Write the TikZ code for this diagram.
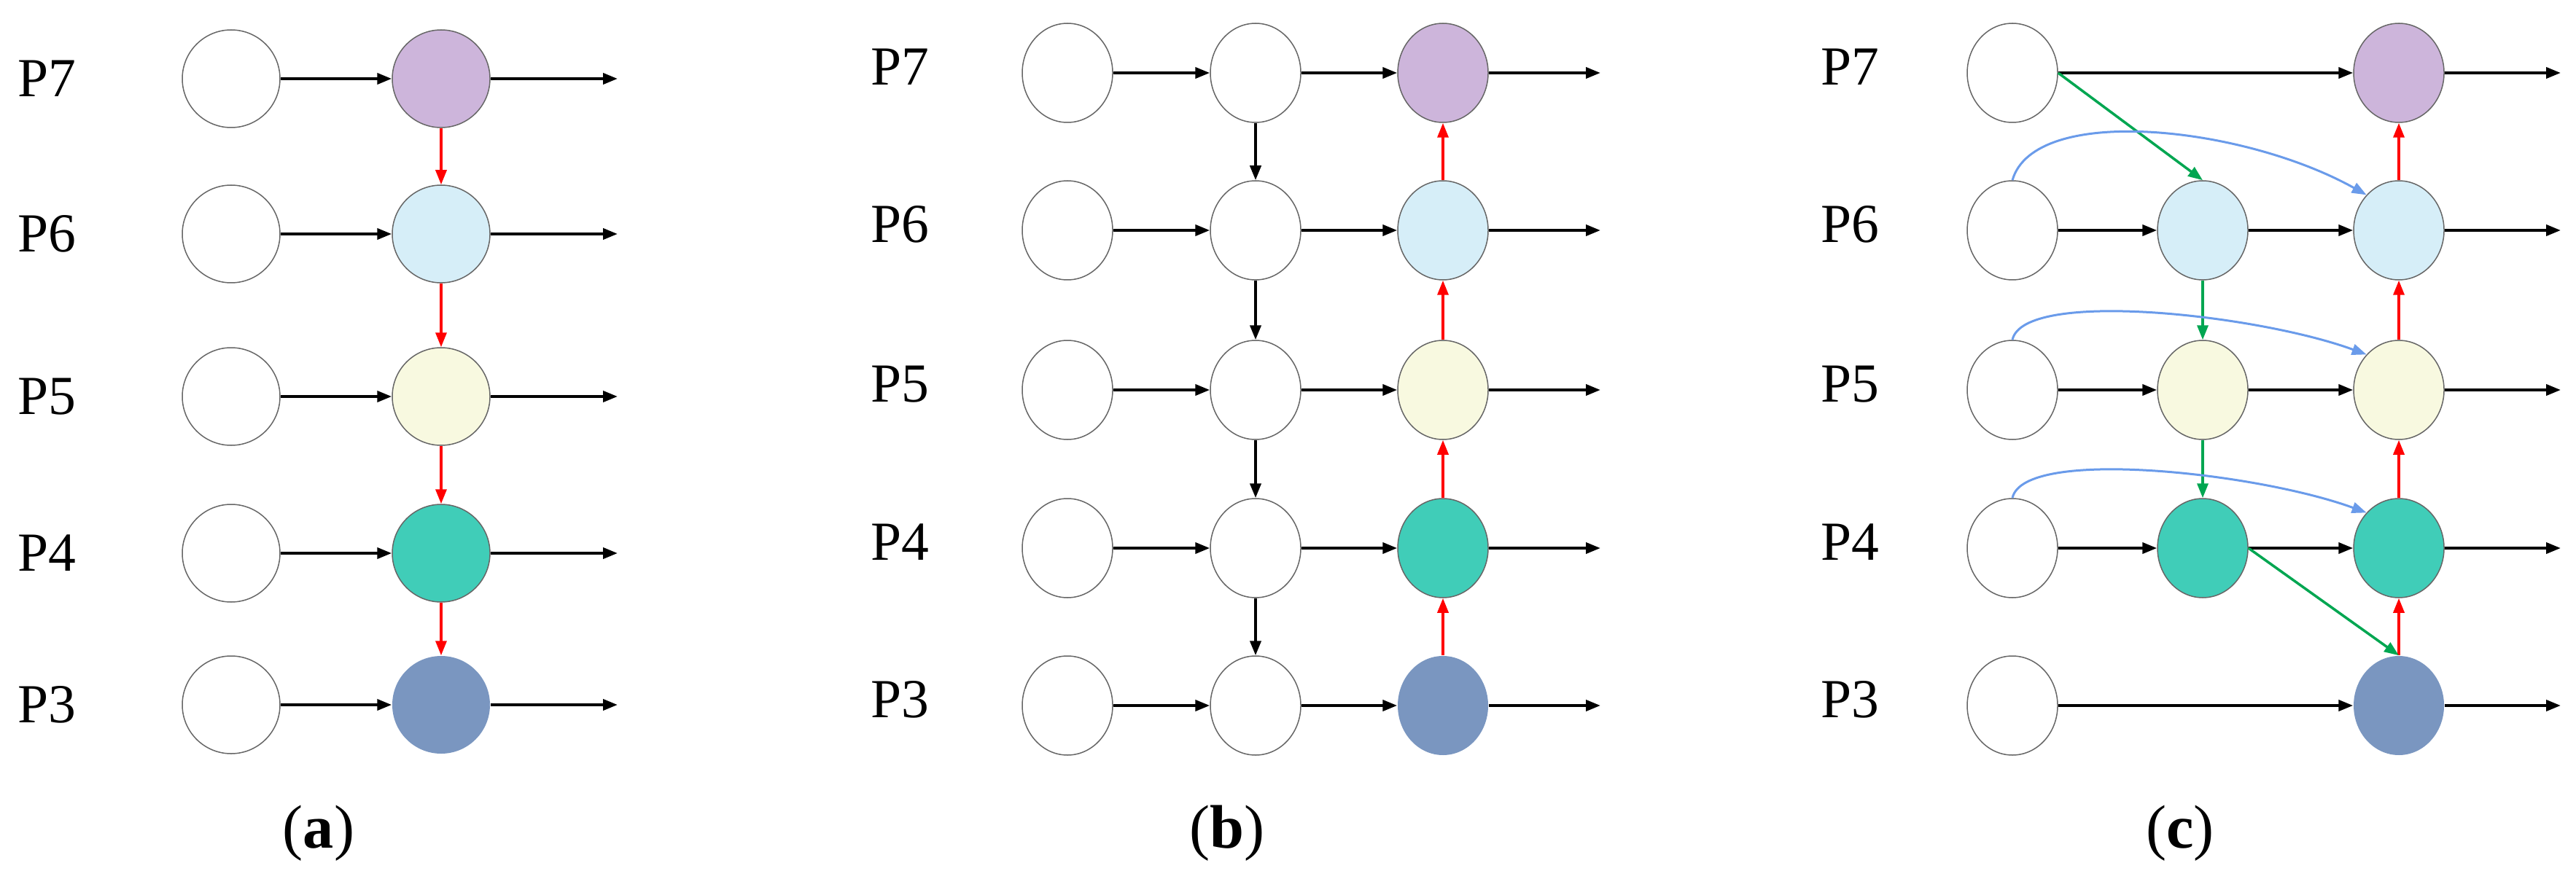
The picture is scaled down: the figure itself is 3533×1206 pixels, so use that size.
\documentclass[tikz,border=0pt]{standalone}
\usepackage{fontspec}
\setmainfont{Liberation Serif}
\usetikzlibrary{shapes.geometric,arrows.meta}
\definecolor{cp}{HTML}{CDB5DB}
\definecolor{cl}{HTML}{D6EEF8}
\definecolor{cc}{HTML}{F8F9E0}
\definecolor{ct}{HTML}{40CDB8}
\definecolor{cb}{HTML}{7A96C0}
\definecolor{cg}{HTML}{00A651}
\definecolor{cu}{HTML}{6A9BEA}
\begin{document}
\begin{tikzpicture}[x=0.1mm,y=-0.1mm,
  nd/.style={ellipse,draw=gray!80!black,line width=0.15mm,minimum width=12.4mm,minimum height=13.6mm,inner sep=0pt},
  na/.style={nd,minimum width=13.4mm,minimum height=13.4mm},
  c7/.style={fill=cp},c6/.style={fill=cl},c5/.style={fill=cc},c4/.style={fill=ct},c3/.style={fill=cb,draw=none},
  lab/.style={font=\fontsize{21.5}{24}\selectfont},
  sub/.style={font=\fontsize{24}{26}\selectfont},
  arr/.style={line width=0.4mm,-{Triangle[length=2mm,width=1.5mm]}},
  rarr/.style={arr,red,line width=0.35mm},
  garr/.style={arr,cg,line width=0.35mm},
  barr/.style={arr,cu,line width=0.3mm}]
\useasboundingbox (0,0) rectangle (3533,1206);
% panel a
\foreach \r/\y in {7/108,6/321,5/544,4/759,3/967}{
  \node[lab] (pa\r) at (64,\y) {P\r};
  \node[na] (a1\r) at (317,\y) {};
  \node[na,c\r] (a2\r) at (605,\y) {};
  \coordinate (ae\r) at (847,\y);
  \draw[arr] (a1\r) -- (a2\r);
  \draw[arr] (a2\r) -- (ae\r);
}
\foreach \u/\d in {7/6,6/5,5/4,4/3}{\draw[rarr] (a2\u) -- (a2\d);}
\node[sub] (la) at (437,1143) {(\textbf{a})};
% panel b
\foreach \r/\y in {7/100,6/316,5/535,4/752,3/968}{
  \node[lab] (pb\r) at (1234,\y-8) {P\r};
  \node[nd] (b1\r) at (1464,\y) {};
  \node[nd] (b2\r) at (1722,\y) {};
  \node[nd,c\r] (b3\r) at (1979,\y) {};
  \coordinate (be\r) at (2195,\y);
  \draw[arr] (b1\r) -- (b2\r);
  \draw[arr] (b2\r) -- (b3\r);
  \draw[arr] (b3\r) -- (be\r);
}
\foreach \u/\d in {7/6,6/5,5/4,4/3}{
  \draw[arr] (b2\u) -- (b2\d);
  \draw[rarr] (b3\d) -- (b3\u);}
\node[sub] (lb) at (1683,1143) {(\textbf{b})};
% panel c
\foreach \r/\y in {7/100,6/316,5/535,4/752,3/968}{
  \node[lab] (pc\r) at (2537,\y-8) {P\r};
  \node[nd] (c1\r) at (2760,\y) {};
  \node[nd,c\r] (c3\r) at (3290,\y) {};
  \coordinate (ce\r) at (3512,\y);
  \draw[arr] (c3\r) -- (ce\r);
}
\foreach \r/\y in {6/316,5/535,4/752}{
  \node[nd,c\r] (c2\r) at (3021,\y) {};
  \draw[arr] (c1\r) -- (c2\r);
  \draw[arr] (c2\r) -- (c3\r);
}
\draw[arr] (c17) -- (c37);
\draw[arr] (c13) -- (c33);
\foreach \u/\d in {7/6,6/5,5/4,4/3}{\draw[rarr] (c3\d) -- (c3\u);}
\draw[garr] (c17.east) -- (c26.north);
\draw[garr] (c26) -- (c25);
\draw[garr] (c25) -- (c24);
\draw[garr] (c24.east) -- (c33.north);
\draw[barr] (c16.north) .. controls +(30,-105) and +(-170,-95) .. (c36.north west);
\draw[barr] (c15.north) .. controls +(15,-70) and +(-150,-55) .. (c35.north west);
\draw[barr] (c14.north) .. controls +(15,-70) and +(-150,-55) .. (c34.north west);
\node[sub] (lc) at (2990,1143) {(\textbf{c})};
\end{tikzpicture}
\end{document}
